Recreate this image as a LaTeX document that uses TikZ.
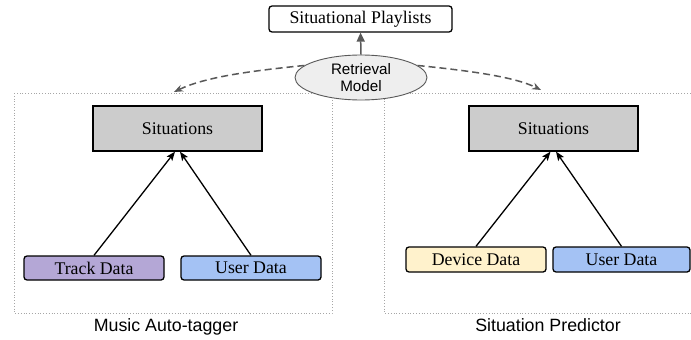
\documentclass[tikz,border=0pt]{standalone}
\usepackage{fontspec}
\setmainfont{Liberation Serif}
\setsansfont{Liberation Sans}
\usetikzlibrary{arrows.meta,shapes.geometric}
\definecolor{trackc}{HTML}{B4A7D6}
\definecolor{userc}{HTML}{A4C2F4}
\definecolor{devc}{HTML}{FFF2CC}
\definecolor{sitc}{HTML}{CCCCCC}
\definecolor{ellc}{HTML}{EEEEEE}
\definecolor{darkg}{HTML}{595959}
\begin{document}
\begin{tikzpicture}[x=1pt,y=-1pt,
  databox/.style={draw=black,line width=1.3pt,rounded corners=3pt,minimum width=140pt,minimum height=24pt,inner sep=0pt,font=\fontsize{17.8}{20}\selectfont},
  sitbox/.style={draw=black,line width=1.3pt,fill=sitc,minimum width=169pt,minimum height=45pt,inner sep=0pt,font=\fontsize{17.8}{20}\selectfont},
  group/.style={draw=gray!70,dotted,line width=0.8pt},
  captxt/.style={font=\sffamily\fontsize{17.8}{20}\selectfont,anchor=base},
  feed/.style={draw=black,line width=1.3pt,-{Stealth[length=9pt,width=7pt,inset=2pt]}},
  retr/.style={draw=darkg,line width=1.5pt,dash pattern=on 7pt off 4pt,-{Stealth[length=9pt,width=7pt,inset=3pt]}}
]
\useasboundingbox (0,0) rectangle (691,340);
\fill[white] (0,0) rectangle (691,340);
% groups
\draw[group] (14,93) rectangle (332,313);
\draw[group] (384,93) rectangle (705,313);
% top
\node[draw=black,line width=1.3pt,rounded corners=3pt,minimum width=183pt,minimum height=26pt,inner sep=0pt,font=\fontsize{17.8}{20}\selectfont] (play) at (360.5,19) {Situational Playlists};
\node[ellipse,draw=darkg,line width=0.9pt,fill=ellc,minimum width=132pt,minimum height=45pt,inner sep=0pt,align=center,font=\sffamily\fontsize{15.2}{17.5}\selectfont] (ret) at (361,77.5) {Retrieval\\Model};
\draw[draw=darkg,line width=1.5pt,-{Stealth[length=9pt,width=8pt,inset=0pt]}] (ret.north) -- (play.south);
% left
\node[sitbox] (sitL) at (177.5,128.5) {Situations};
\node[databox,fill=trackc] (track) at (94,268) {Track Data};
\node[databox,fill=userc] (userL) at (251,268) {User Data};
\draw[feed] (track.north) -- ([xshift=-2.5pt]sitL.south);
\draw[feed] (userL.north) -- ([xshift=2.5pt]sitL.south);
\node[captxt] (capL) at (166,331) {Music Auto-tagger};
% right
\node[sitbox] (sitR) at (553.5,128.5) {Situations};
\node[databox,fill=devc,minimum height=25pt] (dev) at (476,259.5) {Device Data};
\node[databox,fill=userc,minimum width=137pt,minimum height=25pt] (userR) at (621.5,259.5) {User Data};
\draw[feed] (dev.north) -- ([xshift=-3pt]sitR.south);
\draw[feed] (userR.north) -- ([xshift=2.5pt]sitR.south);
\node[captxt] (capR) at (548,331) {Situation Predictor};
% retrieval arrows
\coordinate (tl) at (174,92);
\coordinate (tr) at (541,90);
\draw[retr] (ret.168) .. controls (250,71) and (205,77) .. (tl);
\draw[retr] (ret.12) .. controls (472,71) and (515,77) .. (tr);
\end{tikzpicture}
\end{document}
